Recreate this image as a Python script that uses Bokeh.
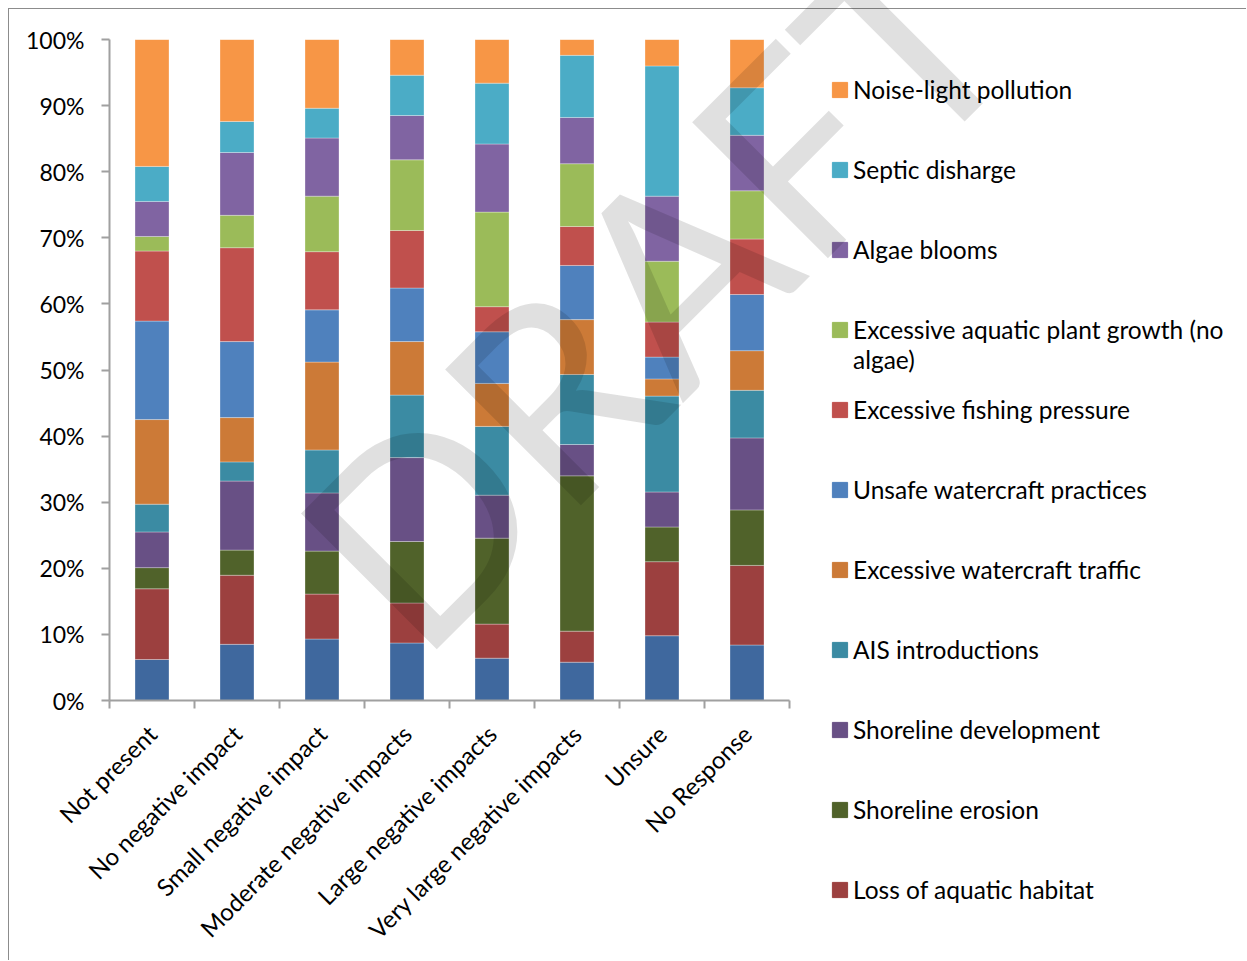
import math
from bokeh.plotting import figure
from bokeh.layouts import column, row
from bokeh.models import (Range1d, FixedTicker, NumeralTickFormatter, Legend,
                          LegendItem, ColumnDataSource, Div)
from bokeh.embed import file_html
from bokeh.resources import INLINE

categories = ["Not present", "No negative impact", "Small negative impact",
              "Moderate negative impacts", "Large negative impacts",
              "Very large negative impacts", "Unsure", "No Response"]

series_names = ["Other", "Loss of aquatic habitat", "Shoreline erosion",
                "Shoreline development", "AIS introductions",
                "Excessive watercraft traffic", "Unsafe watercraft practices",
                "Excessive fishing pressure",
                "Excessive aquatic plant growth (no", "Algae blooms",
                "Septic disharge", "Noise-light pollution"]
label_wrap = "algae)"

other = [6.2, 8.5, 9.3, 8.7, 6.4, 5.8, 9.8, 8.4]
loss = [10.7, 10.45, 6.8, 6.05, 5.15, 4.7, 11.2, 12.05]
erosion = [3.2, 3.8, 6.5, 9.3, 13.0, 23.5, 5.25, 8.4]
development = [5.4, 10.45, 8.8, 12.7, 6.5, 4.75, 5.3, 10.9]
ais = [4.2, 2.9, 6.5, 9.45, 10.4, 10.6, 14.5, 7.2]
traffic = [12.8, 6.7, 13.3, 8.1, 6.5, 8.3, 2.6, 6.0]
unsafe = [14.9, 11.5, 7.9, 8.1, 7.8, 8.2, 3.3, 8.5]
fishing = [10.6, 14.2, 8.8, 8.7, 3.8, 5.9, 5.3, 8.4]
plants = [2.2, 4.9, 8.4, 10.7, 14.3, 9.5, 9.2, 7.3]
algae = [5.3, 9.5, 8.8, 6.7, 10.3, 7.0, 9.85, 8.4]
septic = [5.3, 4.7, 4.5, 6.1, 9.2, 9.4, 19.7, 7.2]
noise = [19.2, 12.4, 10.4, 5.4, 6.6, 2.4, 4.0, 7.3]

y_ticks = [0, 0.1, 0.2, 0.3, 0.4, 0.5, 0.6, 0.7, 0.8, 0.9, 1.0]

colors = ["#3f689e", "#9c403f", "#50622a", "#685085", "#3b8ba3", "#cc7a37",
          "#4f81bd", "#c0504d", "#9bbb59", "#8064a2", "#4bacc6", "#f79646"]

series = [other, loss, erosion, development, ais, traffic, unsafe, fishing,
          plants, algae, septic, noise]

# 100% stacked: normalise each category
n_cat = len(categories)
totals = [sum(s[i] for s in series) for i in range(n_cat)]
keys = [f"s{k}" for k in range(len(series))]
data = {"x": [i + 0.5 for i in range(n_cat)]}
for k, s in zip(keys, series):
    data[k] = [s[i] / totals[i] for i in range(n_cat)]
src = ColumnDataSource(data)

FONT = "Lato"
H = 951

# ---------------- main chart ----------------
p = figure(width=782, height=H, output_backend="svg", toolbar_location=None,
           x_range=Range1d(0, n_cat), y_range=Range1d(0, 1),
           min_border_left=100, min_border_right=2, min_border_top=30,
           min_border_bottom=260)
p.frame_align = False

rs = p.vbar_stack(keys, x="x", width=0.4, color=colors, source=src,
                  line_color="white", line_alpha=0.3, line_width=1)

p.xgrid.visible = False
p.ygrid.visible = False
p.outline_line_color = None

axis_col = "#a0a0a0"
p.yaxis.ticker = FixedTicker(ticks=y_ticks)
p.yaxis.formatter = NumeralTickFormatter(format="0%")
p.yaxis.major_tick_out = 8
p.yaxis.major_tick_in = 0
p.yaxis.minor_tick_out = 0
p.yaxis.minor_tick_in = 0
p.yaxis.axis_line_color = axis_col
p.yaxis.axis_line_width = 2
p.yaxis.major_tick_line_color = axis_col
p.yaxis.major_tick_line_width = 2
p.yaxis.major_label_text_font = FONT
p.yaxis.major_label_text_font_size = "23px"
p.yaxis.major_label_text_color = "black"
p.yaxis.major_label_standoff = 17

p.xaxis.ticker = FixedTicker(ticks=[i + 0.5 for i in range(n_cat)],
                             minor_ticks=[i for i in range(n_cat + 1)])
p.xaxis.major_label_overrides = {i + 0.5: c for i, c in enumerate(categories)}
p.xaxis.major_tick_line_color = None
p.xaxis.major_tick_out = 0
p.xaxis.major_tick_in = 0
p.xaxis.minor_tick_out = 8
p.xaxis.minor_tick_in = 0
p.xaxis.minor_tick_line_color = axis_col
p.xaxis.minor_tick_line_width = 2
p.xaxis.axis_line_color = axis_col
p.xaxis.axis_line_width = 2
p.xaxis.major_label_orientation = math.pi / 4
p.xaxis.major_label_text_font = FONT
p.xaxis.major_label_text_font_size = "24px"
p.xaxis.major_label_text_color = "black"
p.xaxis.major_label_standoff = 21

# ---------------- legend panel ----------------
# proxy bars from the same data, kept out of view, feed the legend swatches
p2 = figure(width=455, height=H, output_backend="svg", toolbar_location=None,
            x_range=Range1d(0, n_cat), y_range=Range1d(5, 6),
            min_border=0, x_axis_type=None, y_axis_type=None)
p2.frame_align = False
p2.xgrid.visible = False
p2.ygrid.visible = False
p2.outline_line_color = None

swatches = p2.vbar_stack(keys, x="x", width=0.4, color=colors, source=src)
items = [LegendItem(label=series_names[i], renderers=[swatches[i]])
         for i in reversed(range(1, len(keys)))]
legend = Legend(items=items, location=(39, 56), orientation="vertical",
                glyph_width=19, glyph_height=19, label_height=30,
                label_standoff=4, spacing=50, padding=0, margin=0,
                border_line_color=None, background_fill_alpha=0,
                label_text_font=FONT, label_text_font_size="24.5px",
                label_text_color="black")
p2.add_layout(legend)

chart = row(p, p2)
chart.styles = {"margin-left": "8px", "margin-top": "8px",
                "border-left": "1px solid #8c8c8c",
                "border-top": "1px solid #8c8c8c"}

wrap = Div(text=label_wrap, styles={
    "position": "absolute", "left": "848px", "top": "340px",
    "font-size": "24.5px", "line-height": "30px", "font-family": "Lato",
    "color": "black", "white-space": "nowrap"})

wm = Div(text="DRAFT", styles={
    "position": "absolute", "left": "146px", "top": "123px",
    "width": "1000px", "height": "320px", "font-size": "268px",
    "line-height": "320px", "font-family": "Lato",
    "color": "rgba(0,0,0,0.12)", "text-align": "center",
    "white-space": "nowrap", "transform": "rotate(-45deg)",
    "transform-origin": "50% 50%", "pointer-events": "none",
    "z-index": "10", "overflow": "visible"})

layout = column(chart, wrap, wm)
open("out.html", "w").write(file_html(layout, INLINE))
